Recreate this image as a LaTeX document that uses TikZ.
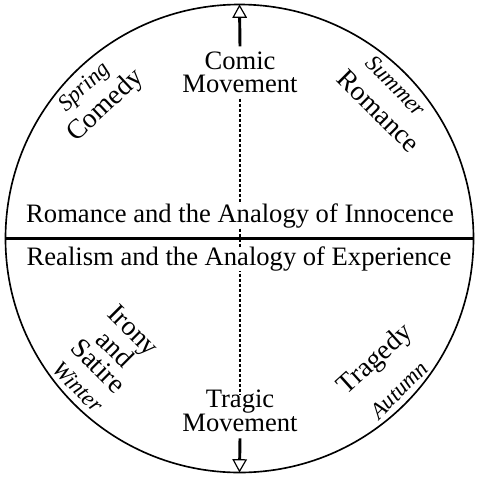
\documentclass[tikz,border=0pt]{standalone}
\usepackage{fontspec}
\setmainfont{Liberation Serif}
\usetikzlibrary{arrows.meta}

\begin{document}
\begin{tikzpicture}[x=0.3mm, y=-0.3mm,
			maintext/.style = {font=\fontsize{22.7}{19.5}\selectfont, inner sep=0pt, align=center},
			genre/.style = {font=\fontsize{23.5}{20.5}\selectfont, inner sep=0pt, align=center},
			season/.style = {font=\fontsize{19.5}{19.5}\selectfont\itshape, inner sep=0pt},
			movearrow/.style = {line width=2.5pt, -{Triangle[open, length=4mm, width=4.4mm, line width=1pt]}}]

			\useasboundingbox (0,0) rectangle (479,478);

			% the wheel
			\node [circle, draw, line width=1.4pt, minimum size=140.4mm, outer sep=0pt] (wheel) at (239.5,238.5) {};

			% the two movements
			\node [maintext] (comic) at (240,72) {Comic\\Movement};
			\node [maintext] (tragic) at (240,411) {Tragic\\Movement};
			\draw [movearrow] (comic.north) ++(0,-5) coordinate (comictop) -- (wheel.north);
			\draw [movearrow] (tragic.south) ++(0,6) coordinate (tragicbot) -- (wheel.south);
			\draw [line width=1pt, dash pattern=on 0.9mm off 0.6mm] (comic.south) ++(0,6) -- ([yshift=-1.5mm]tragic.north);

			% the two halves
			\draw [line width=2.4pt] (wheel.west) -- (wheel.east);
			\node [maintext, fill=white] (innocence) at (240,216) {Romance and the Analogy of Innocence};
			\node [maintext, fill=white] (experience) at (239,259) {Realism and the Analogy of Experience};

			% genres and seasons
			\node [genre, rotate=43] (comedy) at (106,106) {Comedy};
			\node [season, rotate=43] (spring) at (85,88) {Spring};
			\node [genre, rotate=-45] (romance) at (379,111) {Romance};
			\node [season, rotate=-45] (summer) at (396,86) {Summer};
			\node [genre, rotate=-45] (irony) at (116,348) {Irony\\and\\Satire};
			\node [season, rotate=-45] (winter) at (78,387) {Winter};
			\node [genre, rotate=42] (tragedy) at (376,360) {Tragedy};
			\node [season, rotate=45] (autumn) at (399,390) {Autumn};
		\end{tikzpicture}
\end{document}
